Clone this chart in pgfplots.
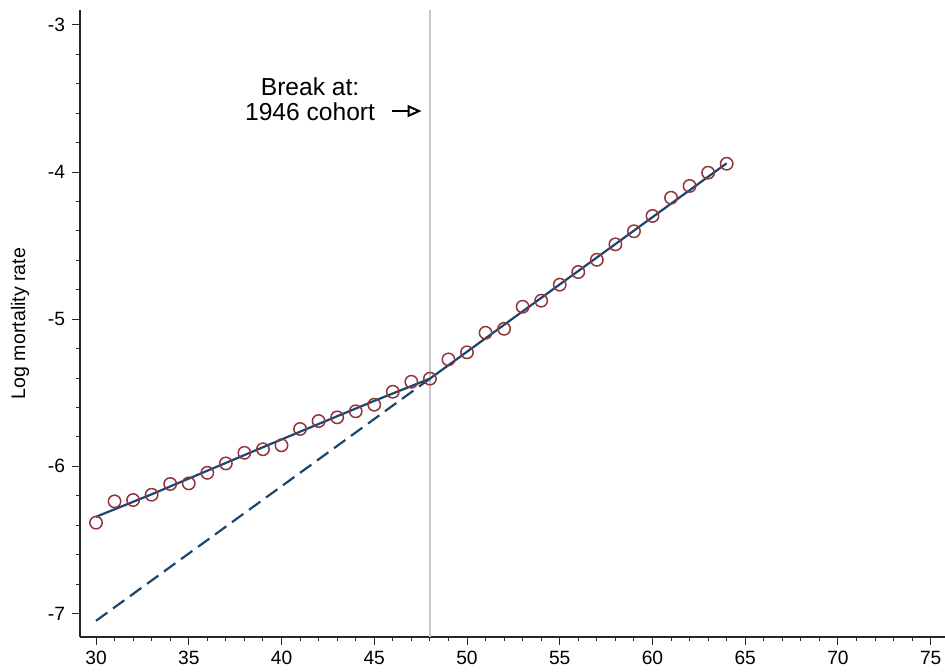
\documentclass[border=0pt]{standalone}
\usepackage{pgfplots}
\pgfplotsset{compat=1.18}
\usepackage{fontspec}
\setmainfont{Liberation Sans}
\usetikzlibrary{arrows.meta}

\definecolor{navy}{RGB}{26,71,111}
\definecolor{maroon}{RGB}{144,53,59}
\definecolor{breakgray}{RGB}{200,200,200}

% observed log mortality rates by age
\pgfplotstableread{
age  lmr
30  -6.383
31  -6.238
32  -6.229
33  -6.193
34  -6.120
35  -6.116
36  -6.044
37  -5.980
38  -5.908
39  -5.884
40  -5.857
41  -5.746
42  -5.692
43  -5.667
44  -5.626
45  -5.581
46  -5.493
47  -5.425
48  -5.404
49  -5.273
50  -5.225
51  -5.092
52  -5.065
53  -4.915
54  -4.874
55  -4.765
56  -4.679
57  -4.596
58  -4.491
59  -4.402
60  -4.298
61  -4.174
62  -4.094
63  -4.004
64  -3.943
}\observed

% fitted values: pre-break and post-break segments
\pgfplotstableread{
age  fit
30  -6.343
33  -6.190
36  -6.030
39  -5.870
42  -5.712
45  -5.555
48  -5.404
}\fitpre

\pgfplotstableread{
age  fit
48  -5.404
64  -3.940
}\fitpost

% post-break trend projected back
\pgfplotstableread{
age  fit
30  -7.050
48  -5.404
}\projected

\begin{document}
\begin{tikzpicture}
\useasboundingbox (-40pt,-17.5pt) rectangle (432.5pt,318.5pt);
\begin{axis}[
  scale only axis,
  width=432.5pt, height=313.5pt,
  xmin=29.137, xmax=75.77,
  ymin=-7.160, ymax=-2.898,
  axis x line*=bottom, axis y line*=left,
  axis line style={black!85, line width=0.6pt},
  tick align=outside,
  xtick={30,35,...,75},
  minor xtick={31,32,33,34,36,37,38,39,41,42,43,44,46,47,48,49,51,52,53,54,56,57,58,59,61,62,63,64,66,67,68,69,71,72,73,74},
  ytick={-7,-6,-5,-4,-3},
  yticklabels={-7,-6,-5,-4,-3},
  minor ytick={-7.2,-6.8,-6.6,-6.4,-6.2,-5.8,-5.6,-5.4,-5.2,-4.8,-4.6,-4.4,-4.2,-3.8,-3.6,-3.4,-3.2,-2.8},
  major tick length=4pt, minor tick length=2pt,
  tick style={black!85, line width=0.5pt},
  /pgf/number format/assume math mode=true,
  ticklabel style={font=\fontsize{9.6}{11.5}\selectfont},
  xticklabel style={yshift=0.3pt},
  ylabel={Log mortality rate},
  ylabel style={at={(axis description cs:-0.0694,0.5)}, anchor=center,
    font=\fontsize{9.8}{12}\selectfont},
  clip=false,
]
% break year marker
\addplot[breakgray, line width=0.7pt] coordinates {(48,-7.160) (48,-2.898)};

% projected trend
\addplot[navy, line width=1.1pt, dash pattern=on 7pt off 3.5pt] table[x=age,y=fit] {\projected};

% observed rates
\addplot[only marks, mark=o, mark size=3.1pt, maroon, mark options={line width=0.75pt}]
  table[x=age,y=lmr] {\observed};

% fitted segments
\addplot[navy, line width=1.1pt] table[x=age,y=fit] {\fitpre};
\addplot[navy, line width=1.1pt] table[x=age,y=fit] {\fitpost};

\node[align=center, font=\fontsize{12.3}{12.4}\selectfont] at (axis cs:41.54,-3.506)
  {Break at:\\1946 cohort};
\draw[-{Triangle[open, length=7pt, width=6pt, line width=1pt]}, line width=1.1pt, black]
  (axis cs:45.96,-3.585) -- (axis cs:47.55,-3.585);
\end{axis}
\end{tikzpicture}
\end{document}
